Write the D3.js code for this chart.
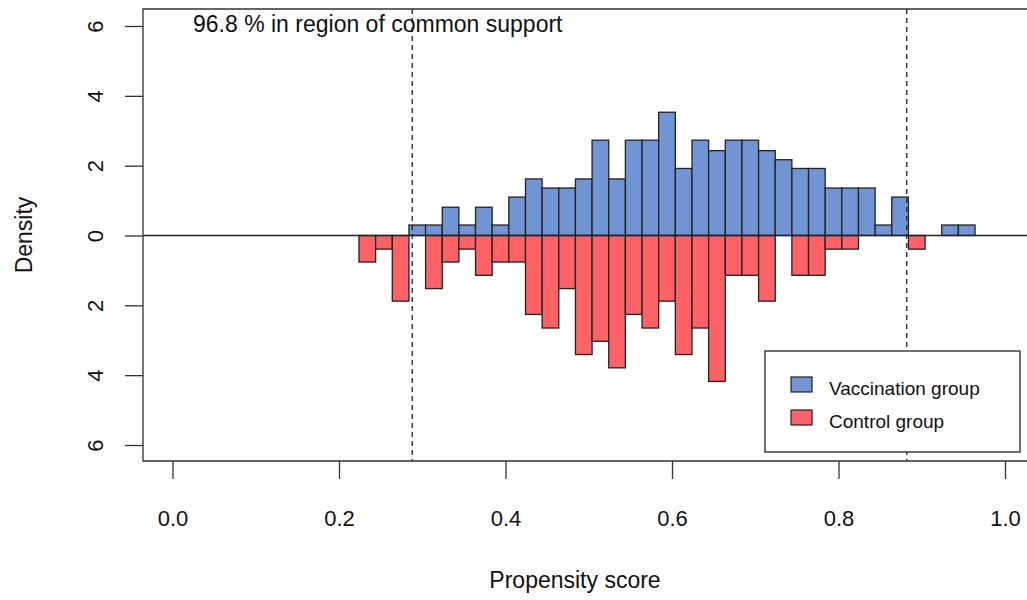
<!DOCTYPE html>
<html><head><meta charset="utf-8">
<script src="https://cdn.jsdelivr.net/npm/d3@7"></script>
<style>body{margin:0;background:#fff}svg{font-family:"Liberation Sans",Arial,sans-serif}</style>
</head><body><svg id="c" width="1027" height="600"></svg>
<script>
// bin lefts (width 0.02) and densities
const binStart = 0.224, binWidth = 0.02;
const treated = [0,0,0,0.30,0.30,0.81,0.30,0.81,0.30,1.10,1.62,1.36,1.36,1.62,2.73,1.62,2.73,2.73,3.53,
  1.92,2.73,2.43,2.73,2.73,2.43,2.17,1.92,1.92,1.36,1.36,1.36,0.30,1.10,0,0,0.30,0.30];
const control = [0.76,0.39,1.88,0,1.52,0.76,0.39,1.14,0.76,0.76,2.26,2.65,1.52,3.41,3.03,3.79,2.26,2.65,1.88,
  3.41,2.65,4.18,1.14,1.14,1.88,0,1.14,1.14,0.39,0.39,0,0,0,0.39,0,0,0];
const xTicks = [0, 0.2, 0.4, 0.6, 0.8, 1.0];
const yTicks = [-6, -4, -2, 0, 2, 4, 6];
const supportLo = 0.288, supportHi = 0.882;
const legendItems = [["Vaccination group", "#7094d4"], ["Control group", "#ff6266"]];

const svg = d3.select("#c");
const x = d3.scaleLinear().domain([0, 1]).range([172.5, 1005]);
const y = d3.scaleLinear().domain([-6, 6]).range([445, 26]);
const L = 143, R = 1027, T = 9, B = 461;

const g = svg.append("g");
function bars(vals, color, sign) {
  g.selectAll(null).data(vals.map((v, i) => ({ v, i })).filter(d => d.v > 0)).join("rect")
    .attr("x", d => x(binStart + d.i * binWidth))
    .attr("width", d => x(binStart + (d.i + 1) * binWidth) - x(binStart + d.i * binWidth))
    .attr("y", d => sign > 0 ? y(d.v) : y(0))
    .attr("height", d => Math.abs(y(d.v) - y(0)))
    .attr("fill", color).attr("stroke", "#222").attr("stroke-width", 1.3);
}
bars(treated, legendItems[0][1], 1);
bars(control, legendItems[1][1], -1);

svg.append("line").attr("x1", L).attr("x2", R).attr("y1", y(0)).attr("y2", y(0)).attr("stroke", "#222").attr("stroke-width", 1.3);
[supportLo, supportHi].forEach(s => svg.append("line").attr("x1", x(s)).attr("x2", x(s)).attr("y1", T).attr("y2", B)
  .attr("stroke", "#222").attr("stroke-width", 1.3).attr("stroke-dasharray", "5,4"));

// frame: left, top, bottom
svg.append("path").attr("d", `M${R},${T}H${L}V${B}H${R}`).attr("fill", "none").attr("stroke", "#333").attr("stroke-width", 1.3);

const xa = svg.append("g").attr("transform", `translate(0,${B})`)
  .call(d3.axisBottom(x).tickValues(xTicks).tickFormat(d3.format(".1f")).tickSize(18).tickSizeOuter(0));
xa.select(".domain").remove();
xa.selectAll("line").attr("stroke", "#333").attr("stroke-width", 1.3).attr("y1", 0);
xa.selectAll("text").attr("font-size", 22).attr("fill", "#111").attr("y", 49).attr("dy", "0.71em");

const ya = svg.append("g").attr("transform", `translate(${L},0)`)
  .call(d3.axisLeft(y).tickValues(yTicks).tickFormat(d => Math.abs(d)).tickSize(18).tickSizeOuter(0));
ya.select(".domain").remove();
ya.selectAll("line").attr("stroke", "#333").attr("stroke-width", 1.3);
ya.selectAll("text").attr("font-size", 22).attr("fill", "#111")
  .attr("x", null).attr("dy", null)
  .attr("transform", "translate(-48,0) rotate(-90)").attr("text-anchor", "middle").attr("dominant-baseline", "central");

svg.append("text").attr("x", 193).attr("y", 32).attr("font-size", 23).attr("fill", "#111")
  .text("96.8 % in region of common support");
svg.append("text").attr("x", 575).attr("y", 588).attr("text-anchor", "middle").attr("font-size", 23).attr("fill", "#111").text("Propensity score");
svg.append("text").attr("transform", "translate(32,235) rotate(-90)").attr("text-anchor", "middle").attr("font-size", 23).attr("fill", "#111").text("Density");

const lg = svg.append("g").attr("transform", "translate(765,351)");
lg.append("rect").attr("width", 255).attr("height", 101).attr("fill", "#fff").attr("stroke", "#222").attr("stroke-width", 1.3);
legendItems.forEach(([t, c], i) => {
  lg.append("rect").attr("x", 26).attr("y", 26 + i * 33).attr("width", 21).attr("height", 15).attr("fill", c).attr("stroke", "#222").attr("stroke-width", 1.2);
  lg.append("text").attr("x", 64).attr("y", 37 + i * 33).attr("dominant-baseline", "central").attr("font-size", 19).attr("fill", "#111").text(t);
});
</script></body></html>
